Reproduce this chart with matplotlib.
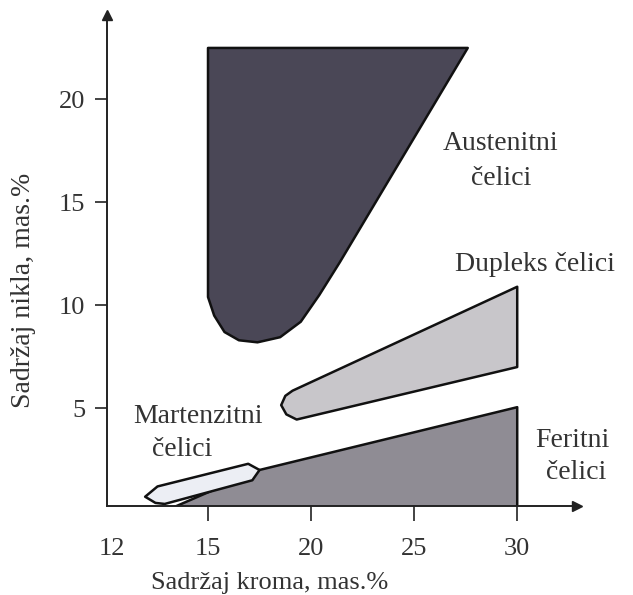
import matplotlib
matplotlib.use("Agg")
import matplotlib.pyplot as plt
from matplotlib.patches import Polygon

# --- data (Cr %, Ni %) ---
austenitic_cr = [15.0, 27.6, 21.4, 20.4, 19.5, 18.5, 17.4, 16.5, 15.8, 15.3, 15.0]
austenitic_ni = [22.5, 22.5, 12.1, 10.5, 9.2, 8.45, 8.2, 8.3, 8.7, 9.5, 10.4]

duplex_cr = [30.0, 30.0, 19.3, 18.8, 18.55, 18.75, 19.1]
duplex_ni = [10.9, 7.0, 4.45, 4.7, 5.15, 5.6, 5.85]

ferritic_cr = [12.9, 30.0, 30.0, 17.5]
ferritic_ni = [0.0, 0.0, 5.05, 2.0]

martensitic_cr = [11.95, 12.55, 16.95, 17.5, 17.15, 12.9, 12.45]
martensitic_ni = [0.7, 1.2, 2.3, 2.0, 1.5, 0.35, 0.4]

x_ticks = [10.35, 15, 20, 25, 30]
x_tick_labels = ["12", "15", "20", "25", "30"]
y_ticks = [5, 10, 15, 20]
y_tick_labels = ["5", "10", "15", "20"]

XMIN, XMAX = 10.1, 32.9
YMIN, YMAX = 0.25, 24.1

plt.rcParams['font.family'] = ['Liberation Serif', 'DejaVu Serif']

fig = plt.figure(figsize=(6.33, 5.95), dpi=100)
ax = fig.add_axes([107/633, 1 - 506/595, (577-107)/633, (506-15)/595])

def add_poly(xs, ys, color, z):
    p = Polygon(list(zip(xs, ys)), closed=True, facecolor=color,
                edgecolor="#111111", linewidth=1.8, joinstyle="round", zorder=z)
    ax.add_patch(p)

add_poly(austenitic_cr, austenitic_ni, "#4a4756", 2)
add_poly(duplex_cr, duplex_ni, "#c8c6ca", 2)
add_poly(ferritic_cr, ferritic_ni, "#8f8c94", 2)
add_poly(martensitic_cr, martensitic_ni, "#eceef4", 3)

ax.set_xlim(XMIN, XMAX)
ax.set_ylim(YMIN, YMAX)

for s in ["top", "right"]:
    ax.spines[s].set_visible(False)
for s in ["left", "bottom"]:
    ax.spines[s].set_linewidth(1.4)
    ax.spines[s].set_color("#222222")
    ax.spines[s].set_zorder(5)

ax.set_xticks(x_ticks)
ax.set_xticklabels(x_tick_labels, fontsize=19, color="#333333")
ax.set_yticks(y_ticks)
ax.set_yticklabels(y_tick_labels, fontsize=19, color="#333333")
ax.tick_params(axis="x", length=11, width=1.2, pad=12, color="#222222")
ax.tick_params(axis="y", length=8.5, width=1.2, pad=7, color="#222222")
ax.xaxis.get_major_ticks()[0].tick1line.set_visible(False)

# arrow heads
ax.plot([XMAX], [YMIN], marker=">", markersize=7, color="#222222", clip_on=False, zorder=6)
ax.plot([XMIN], [YMAX], marker="^", markersize=7, color="#222222", clip_on=False, zorder=6)

ax.set_xlabel("Sadržaj kroma, mas.%", fontsize=19, color="#333333")
ax.set_ylabel("Sadržaj nikla, mas.%", fontsize=20, color="#333333")
ax.xaxis.set_label_coords(0.347, -0.135)
ax.yaxis.set_label_coords(-0.15, 0.44)

tc = "#333333"
fs = 20
ax.text(29.2, 17.85, "Austenitni", fontsize=fs, ha="center", va="center", color=tc)
ax.text(29.2, 16.15, "čelici", fontsize=fs, ha="center", va="center", color=tc)
ax.text(30.85, 12.0, "Dupleks čelici", fontsize=fs, ha="center", va="center", color=tc)
ax.text(14.5, 4.6, "Martenzitni", fontsize=fs, ha="center", va="center", color=tc)
ax.text(13.75, 3.0, "čelici", fontsize=fs, ha="center", va="center", color=tc)
ax.text(32.7, 3.45, "Feritni", fontsize=fs, ha="center", va="center", color=tc)
ax.text(32.85, 1.9, "čelici", fontsize=fs, ha="center", va="center", color=tc)

fig.savefig("out.png", dpi=100)
